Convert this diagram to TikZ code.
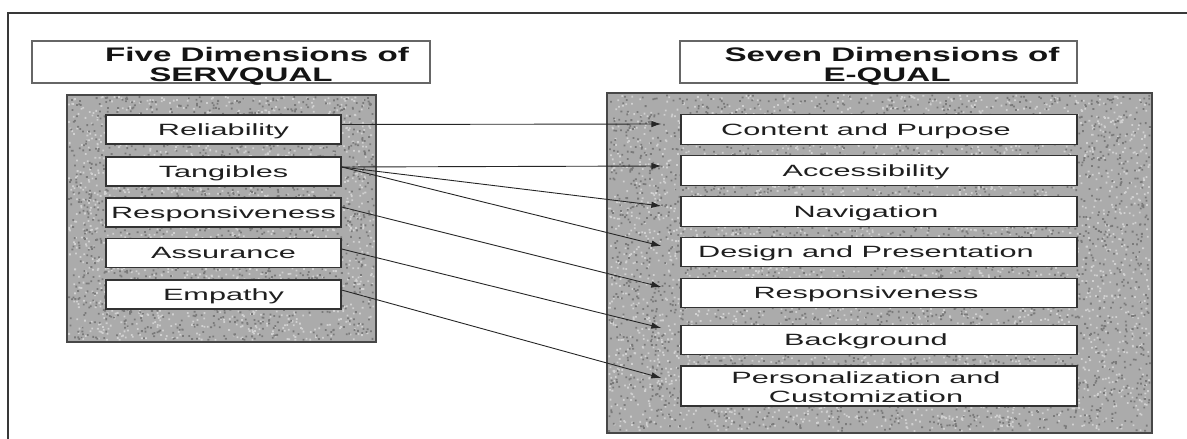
\documentclass[tikz,border=0pt]{standalone}
\usepackage{fontspec}
\setmainfont{Liberation Sans}
\usetikzlibrary{arrows.meta,calc}

% wide lettering used throughout the figure
\newcommand{\itemtxt}[1]{\scalebox{1.88}[1]{#1}}
\newcommand{\headtxt}[1]{\scalebox{1.69}[1]{#1}}

% speckled halftone inside a rectangle, one path per tone:
% #1 colour, #2,#3 upper-left corner, #4,#5 size, #6 count
\newcommand{\speckle}[6]{%
  \fill[#1] \foreach \k in {1,...,#6} {
    ({#2+(#4-1.8)*rnd},{#3+(#5-1.8)*rnd}) rectangle ++(1.8,1.8)
  };%
}

\begin{document}
\begin{tikzpicture}[x=1pt,y=-1pt,
  panel/.style={fill=black!33},
  panelrim/.style={draw=black!72, line width=1.4pt},
  itembox/.style={draw=black!80, line width=1.3pt, fill=white, inner sep=0pt,
    text=black!88, font=\fontsize{16.3}{18}\selectfont,
    text height=11.7pt, text depth=0pt},
  lbox/.style={itembox, minimum width=235pt, minimum height=29pt},
  rbox/.style={itembox, minimum width=396pt, minimum height=29.5pt},
  itemlabel/.style={inner sep=0pt, anchor=base, text=black!88,
    font=\fontsize{16.3}{18}\selectfont},
  headbox/.style={draw=black!60, line width=1.1pt, fill=white, inner sep=0pt},
  headlabel/.style={inner sep=0pt, anchor=base, text=black!92,
    font=\fontsize{19.6}{22}\selectfont\bfseries},
  link/.style={line width=0.9pt, draw=black!85,
    -{Latex[length=10pt,width=6.5pt]}},
  frameline/.style={draw=black!78, line width=2pt}]

\useasboundingbox (0,0) rectangle (1187,439);
\pgfmathsetseed{4242}

% outer frame, open towards the right and the bottom
\draw[frameline] (8,439) -- (8,13) -- (1187,13);

% ---------- SERVQUAL side ----------
\node[headbox, minimum width=398pt, minimum height=42pt] (lhead) at (231,62) {};
\node[headlabel] (lheadA) at (257,61.5) {\headtxt{Five Dimensions of}};
\node[headlabel] (lheadB) at (241,81) {\headtxt{SERVQUAL}};

\path[panel] (67,95) rectangle (376,342);
\speckle{black!18}{68}{96}{307}{245}{1700}
\speckle{black!52}{68}{96}{307}{245}{1700}
\draw[panelrim] (67,95) rectangle (376,342);

\node[lbox] (rel)  at (223.5,129.5) {\itemtxt{Reliability}};
\node[lbox] (tan)  at (223.5,171.5) {\itemtxt{Tangibles}};
\node[lbox] (res)  at (223.5,212.5) {\itemtxt{Responsiveness}};
\node[lbox] (ass)  at (223.5,253)   {\itemtxt{Assurance}};
\node[lbox] (emp)  at (223.5,294.5) {\itemtxt{Empathy}};

% ---------- E-QUAL side ----------
\node[headbox, minimum width=397pt, minimum height=42pt] (rhead) at (878.5,62) {};
\node[headlabel] (rheadA) at (892,61.5) {\headtxt{Seven Dimensions of}};
\node[headlabel] (rheadB) at (887,81) {\headtxt{E-QUAL}};

\path[panel] (607,93) rectangle (1152,433);
\speckle{black!18}{608}{94}{543}{338}{3300}
\speckle{black!52}{608}{94}{543}{338}{3300}
\draw[panelrim] (607,93) rectangle (1152,433);

\node[rbox] (cp)  at (879,129.5) {\itemtxt{Content and Purpose}\hspace*{26pt}};
\node[rbox] (acc) at (879,170.5) {\itemtxt{Accessibility}\hspace*{26pt}};
\node[rbox] (nav) at (879,211.5) {\itemtxt{Navigation}\hspace*{26pt}};
\node[rbox] (dp)  at (879,252)   {\itemtxt{Design and Presentation}\hspace*{26pt}};
\node[rbox] (rsp) at (879,293)   {\itemtxt{Responsiveness}\hspace*{26pt}};
\node[rbox] (bg)  at (879,340)   {\itemtxt{Background}\hspace*{26pt}};
\node[itembox, minimum width=396pt, minimum height=40pt] (pc) at (879,386) {};
\node[itemlabel] (pcA) at (866,383) {\itemtxt{Personalization and}};
\node[itemlabel] (pcB) at (866,402) {\itemtxt{Customization}};

% ---------- mapping arrows ----------
\draw[link] ($(rel.east)+(0,-5)$)   -- ($(cp.west)+(-19,-5.5)$);
\draw[link] ($(tan.east)+(0,-4.5)$) -- ($(acc.west)+(-19,-4.5)$);
\draw[link] ($(tan.east)+(0,-4.5)$) -- ($(nav.west)+(-19,-5.5)$);
\draw[link] ($(tan.east)+(0,-4.5)$) -- ($(dp.west)+(-19,-6)$);
\draw[link] ($(res.east)+(0,-5.5)$) -- ($(rsp.west)+(-19,-6)$);
\draw[link] ($(ass.east)+(0,-4)$)   -- ($(bg.west)+(-19,-12)$);
\draw[link] ($(emp.east)+(0,-4.5)$) -- ($(pc.west)+(-19,-8)$);

\end{tikzpicture}
\end{document}
